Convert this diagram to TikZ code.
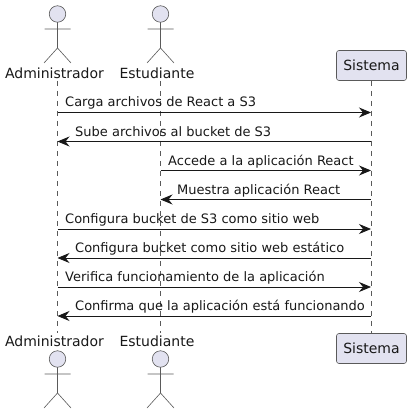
\documentclass[tikz,border=0pt]{standalone}
\usepackage{fontspec}
\setmainfont{DejaVu Sans}
\definecolor{partfill}{HTML}{E2E2F0}
\definecolor{partline}{HTML}{5A5A5A}
\definecolor{inkline}{HTML}{181818}
\usetikzlibrary{arrows.meta}
\tikzset{
  x=1pt,y=-1pt,
  part/.style={draw=partline,fill=partfill,rounded corners=2.5pt,line width=0.6pt,minimum width=70pt,minimum height=30pt,inner sep=0pt,font=\fontsize{14}{16}\selectfont,text=inkline},
  life/.style={draw=partline,line width=0.5pt,dash pattern=on 5pt off 5pt},
  actorlabel/.style={font=\fontsize{14}{16}\selectfont,text=inkline,inner sep=0pt},
  msg/.style={draw=inkline,line width=0.8pt,-{Stealth[length=12pt,width=10pt,inset=4pt]}},
  msgtext/.style={font=\fontsize{13}{15}\selectfont,text=inkline,inner sep=0pt,anchor=base west},
  stick/.style={draw=partline,line width=0.6pt},
  headc/.style={circle,draw=partline,fill=partfill,line width=0.6pt,minimum size=16.5pt,inner sep=0pt},
}
\newcommand{\stickman}[2]{%
  \path[stick] (#1,#2+8) -- (#1,#2+34) (#1-13,#2+15) -- (#1+13,#2+15)
    (#1-13.5,#2+49) -- (#1,#2+34) -- (#1+13.5,#2+49);
  \node[headc] at (#1,#2) {};
}
\begin{document}
\begin{tikzpicture}
\useasboundingbox (0,0) rectangle (411,414);
% lifeline ends
\coordinate (at) at (57.5,81); \coordinate (ab) at (57.5,333);
\coordinate (et) at (160.5,81); \coordinate (eb) at (160.5,333);
% participants
\node[part] (st) at (371.5,65.5) {Sistema};
\node[part] (sb) at (371.5,348.5) {Sistema};
\draw[life] (at) -- (ab);
\draw[life] (et) -- (eb);
\draw[life] (st) -- (sb);
% actors
\stickman{57.5}{14}
\stickman{160.5}{14}
\stickman{57.5}{359}
\stickman{160.5}{359}
\node[actorlabel] (a1) at (54.5,73) {Administrador};
\node[actorlabel] (e1) at (157,73) {Estudiante};
\node[actorlabel] (a2) at (54.5,341) {Administrador};
\node[actorlabel] (e2) at (157,341) {Estudiante};
% message anchors
\foreach \n/\y in {1/112.5,2/141.5,3/170.5,4/199.5,5/229,6/258,7/287,8/316}{
  \coordinate (A\n) at (57.5,\y);
  \coordinate (E\n) at (160.5,\y);
  \coordinate (S\n) at (371,\y);
}
\draw[msg] (A1) -- (S1);
\draw[msg] (S2) -- (A2);
\draw[msg] (E3) -- (S3);
\draw[msg] (S4) -- (E4);
\draw[msg] (A5) -- (S5);
\draw[msg] (S6) -- (A6);
\draw[msg] (A7) -- (S7);
\draw[msg] (S8) -- (A8);
\node[msgtext] at (65,107) {Carga archivos de React a S3};
\node[msgtext] at (75,136) {Sube archivos al bucket de S3};
\node[msgtext] at (168,165) {Accede a la aplicación React};
\node[msgtext] at (177,194) {Muestra aplicación React};
\node[msgtext] at (65,223.5) {Configura bucket de S3 como sitio web};
\node[msgtext] at (75,252.5) {Configura bucket como sitio web estático};
\node[msgtext] at (65,281.5) {Verifica funcionamiento de la aplicación};
\node[msgtext] at (75,310.5) {Confirma que la aplicación está funcionando};
\end{tikzpicture}
\end{document}
